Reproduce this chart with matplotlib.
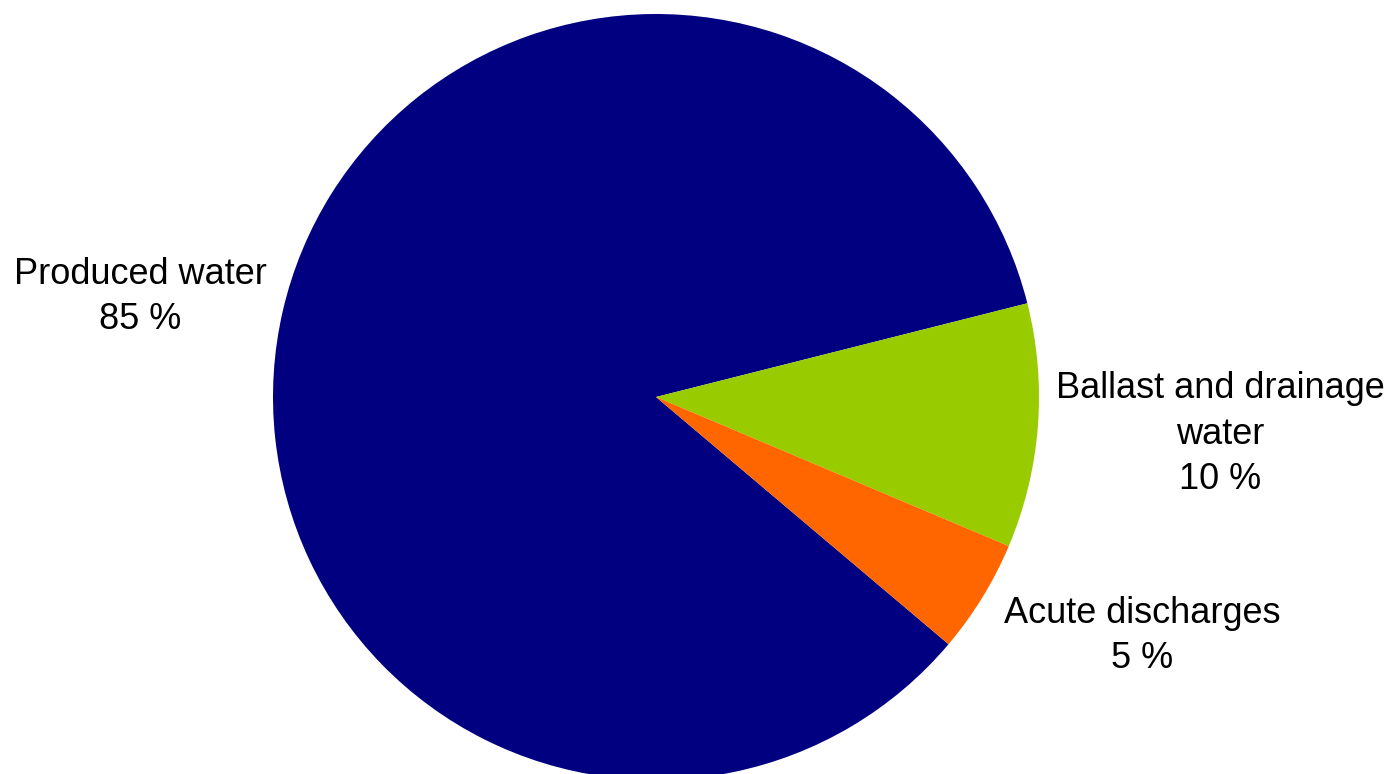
import matplotlib
matplotlib.use("Agg")
import matplotlib.pyplot as plt

labels = ["Produced water", "Ballast and drainage\nwater", "Acute discharges"]
shares = [84.9, 10.3, 4.8]
pct_labels = ["85 %", "10 %", "5 %"]
colors = ["#000080", "#99CC00", "#FF6600"]

W, H = 1390, 774
cx, cy, r = 656, 397, 383

fig = plt.figure(figsize=(W / 100, H / 100), dpi=100)
ax = fig.add_axes([(cx - r) / W, (H - cy - r) / H, 2 * r / W, 2 * r / H])
ax.pie(shares, colors=colors, startangle=-40.2, counterclock=False,
       wedgeprops=dict(linewidth=0))
ax.set_xlim(-1, 1)
ax.set_ylim(-1, 1)
ax.axis("off")

# label centres in pixels of the reference
label_pos = [(140, 297), (1220, 434), (1142, 636)]
for lab, p, (px, py) in zip(labels, pct_labels, label_pos):
    ax.text((px - cx) / r, (cy - py) / r, f"{lab}\n{p}", ha="center", va="center",
            multialignment="center", fontsize=26, family="Liberation Sans",
            linespacing=1.4, clip_on=False)

fig.savefig("out.png", dpi=100)
